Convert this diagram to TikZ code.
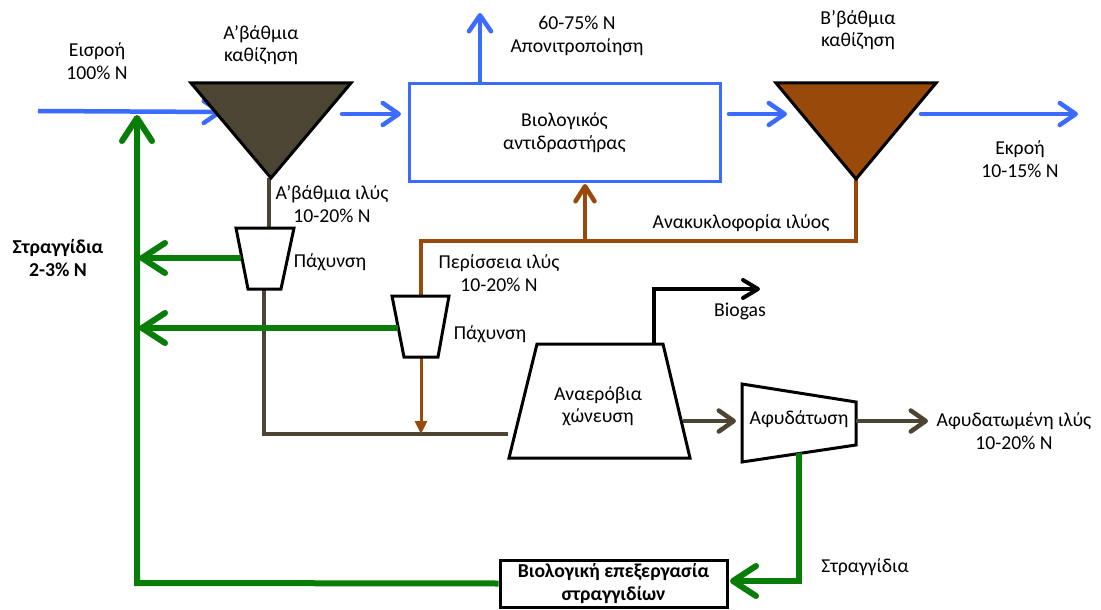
\documentclass[tikz,border=0pt]{standalone}
\usepackage{fontspec}
\setmainfont{Carlito}
\usetikzlibrary{arrows.meta}
\definecolor{cblue}{RGB}{59,108,255}
\definecolor{cgreen}{RGB}{8,126,8}
\definecolor{colive}{RGB}{76,69,52}
\definecolor{cbrown}{RGB}{153,74,10}
\tikzset{
  txt/.style={inner sep=0pt, align=center, font=\fontsize{19.7}{22.5}\selectfont},
  btxt/.style={txt, font=\fontsize{19.7}{22.5}\selectfont\bfseries},
  unit/.style={draw=black, line width=3pt, line join=miter},
  blueflow/.style={draw=cblue, line width=4.5pt, line cap=round, -{Straight Barb[length=16pt,width=22pt,round]}},
  blueline/.style={draw=cblue, line width=4.5pt},
  greenflow/.style={draw=cgreen, line width=6pt, -{Straight Barb[length=23pt,width=30pt,round]}},
  oliveflow/.style={draw=colive, line width=4.5pt, -{Straight Barb[length=15pt,width=21pt,round]}},
  oliveline/.style={draw=colive, line width=4pt},
  brownline/.style={draw=cbrown, line width=4pt},
  brownflow/.style={draw=cbrown, line width=4.5pt, -{Straight Barb[length=15pt,width=19pt,round]}},
  brownfill/.style={draw=cbrown, line width=3pt, -{Triangle[length=13pt,width=12pt]}},
  gasflow/.style={draw=black, line width=4pt, -{Straight Barb[length=15pt,width=18pt,round]}},
}
\begin{document}
\begin{tikzpicture}[x=1pt,y=-1pt]
\useasboundingbox (0,0) rectangle (1101,610);
\fill[white] (0,0) rectangle (1101,610);

% ---- coordinates of unit shapes
\coordinate (p1a) at (191,83); \coordinate (p1b) at (351,83); \coordinate (p1c) at (271,178);
\coordinate (p2a) at (776,83); \coordinate (p2b) at (936,83); \coordinate (p2c) at (856,179);
\coordinate (t1a) at (236,228); \coordinate (t1b) at (294,228); \coordinate (t1c) at (281,289); \coordinate (t1d) at (248,289);
\coordinate (t2a) at (392,296); \coordinate (t2b) at (449,296); \coordinate (t2c) at (438,357); \coordinate (t2d) at (404,357);
\coordinate (dga) at (537,344); \coordinate (dgb) at (663,344); \coordinate (dgc) at (690,458); \coordinate (dgd) at (509,458);
\coordinate (dwa) at (742,384); \coordinate (dwb) at (856,402); \coordinate (dwc) at (856,445); \coordinate (dwd) at (742,462);

% ---- connector endpoints
\coordinate (inS) at (38,111);   \coordinate (inT) at (222,112);
\coordinate (p1out) at (342,114); \coordinate (bioin) at (401,114);
\coordinate (bioout) at (729,114); \coordinate (p2in) at (787,114);
\coordinate (p2out) at (921,114); \coordinate (effT) at (1078,114);
\coordinate (denS) at (480,83); \coordinate (denT) at (480,13);
\coordinate (recA) at (856,241); \coordinate (recB) at (421,241); \coordinate (t2top) at (421,296);
\coordinate (recUp) at (585,241); \coordinate (bioBot) at (585,184);
\coordinate (t1top) at (269,228); \coordinate (p1bot) at (269,178);
\coordinate (t1bot) at (264,289); \coordinate (oA) at (264,434); \coordinate (dgL) at (508,434);
\coordinate (t2bot) at (421,357); \coordinate (mixpt) at (421,434);
\coordinate (t1L) at (241,258); \coordinate (g1T) at (139,258);
\coordinate (t2L) at (398,328); \coordinate (g2T) at (139,328);
\coordinate (gmain) at (137,583); \coordinate (gTop) at (137,115);
\coordinate (dgTop) at (654,344); \coordinate (gasC) at (654,289); \coordinate (gasT) at (760,289);
\coordinate (dgR) at (683,421); \coordinate (dwL) at (736,421);
\coordinate (dwR) at (856,421); \coordinate (dryT) at (928,421);
\coordinate (dwBot) at (799,453); \coordinate (dwC) at (799,581); \coordinate (boxR) at (730,581);

% ---- lines behind shapes
\draw[blueline] (inS) -- (inT);
\draw[blueflow] ([xshift=-30pt]inT) -- (inT);
\draw[oliveline] (p1bot) -- (t1top);
\draw[oliveline, line join=miter] (t1bot) -- (oA) -- (dgL);
\draw[brownline, line join=miter] (p2c) -- (recA) -- (recB) -- (t2top);
\draw[brownflow] (recUp) -- (bioBot);
\draw[brownfill] (t2bot) -- (mixpt);

% ---- units
\draw[unit, fill=colive] (p1a) -- (p1b) -- (p1c) -- cycle;
\draw[unit, fill=cbrown] (p2a) -- (p2b) -- (p2c) -- cycle;
\node[draw=cblue, line width=3pt, minimum width=311pt, minimum height=97pt, inner sep=0pt] (bio) at (564.5,132.5) {};
\node[txt] (biot) at (bio.center) {Βιολογικός\\αντιδραστήρας};
\draw[unit, fill=white] (t1a) -- (t1b) -- (t1c) -- (t1d) -- cycle;
\draw[unit, fill=white] (t2a) -- (t2b) -- (t2c) -- (t2d) -- cycle;
\draw[unit, fill=white] (dga) -- (dgb) -- (dgc) -- (dgd) -- cycle;
\draw[unit, fill=white] (dwa) -- (dwb) -- (dwc) -- (dwd) -- cycle;
\node[draw=black, line width=3pt, minimum width=227pt, minimum height=47pt, inner sep=0pt] (leach) at (613.5,583.5) {};
\node[btxt] (leacht) at (leach.center) {Βιολογική επεξεργασία\\στραγγιδίων};

% ---- flows
\draw[blueflow] (p1out) -- (bioin);
\draw[blueflow] (bioout) -- (p2in);
\draw[blueflow] (p2out) -- (effT);
\draw[blueflow] (denS) -- (denT);
\draw[greenflow] (t1L) -- (g1T);
\draw[greenflow] (t2L) -- (g2T);
\draw[greenflow, line join=miter] (leach.west) -- (gmain) -- (gTop);
\draw[greenflow, line join=miter] (dwBot) -- (dwC) -- (boxR);
\draw[gasflow, line join=miter] (dgTop) -- (gasC) -- (gasT);
\draw[oliveflow] (dgR) -- (dwL);
\draw[oliveflow] (dwR) -- (dryT);

% ---- labels
\node[txt] (lin) at (97,61) {Εισροή\\100\% N};
\node[txt] (lp1) at (261,45) {Α’βάθμια\\καθίζηση};
\node[txt] (lden) at (577,36) {60-75\% N\\Απονιτροποίηση};
\node[txt] (lp2) at (858,30) {Β’βάθμια\\καθίζηση};
\node[txt] (leff) at (1020,159) {Εκροή\\10-15\% N};
\node[txt] (lps) at (332,204) {Α’βάθμια ιλύς\\10-20\% N};
\node[txt] (lt1) at (330,262) {Πάχυνση};
\node[btxt] (lstr) at (58,258) {Στραγγίδια\\2-3\% N};
\node[txt] (lrec) at (741,223) {Ανακυκλοφορία ιλύος};
\node[txt] (lexc) at (499,273) {Περίσσεια ιλύς\\10-20\% N};
\node[txt] (lt2) at (490,334) {Πάχυνση};
\node[txt] (lgas) at (740,311) {Biogas};
\node[txt] (ldg) at (598,406) {Αναερόβια\\χώνευση};
\node[txt] (ldw) at (799,419) {Αφυδάτωση};
\node[txt] (ldry) at (1014,431) {Αφυδατωμένη ιλύς\\10-20\% N};
\node[txt] (lstr2) at (865,567) {Στραγγίδια};
\end{tikzpicture}
\end{document}
